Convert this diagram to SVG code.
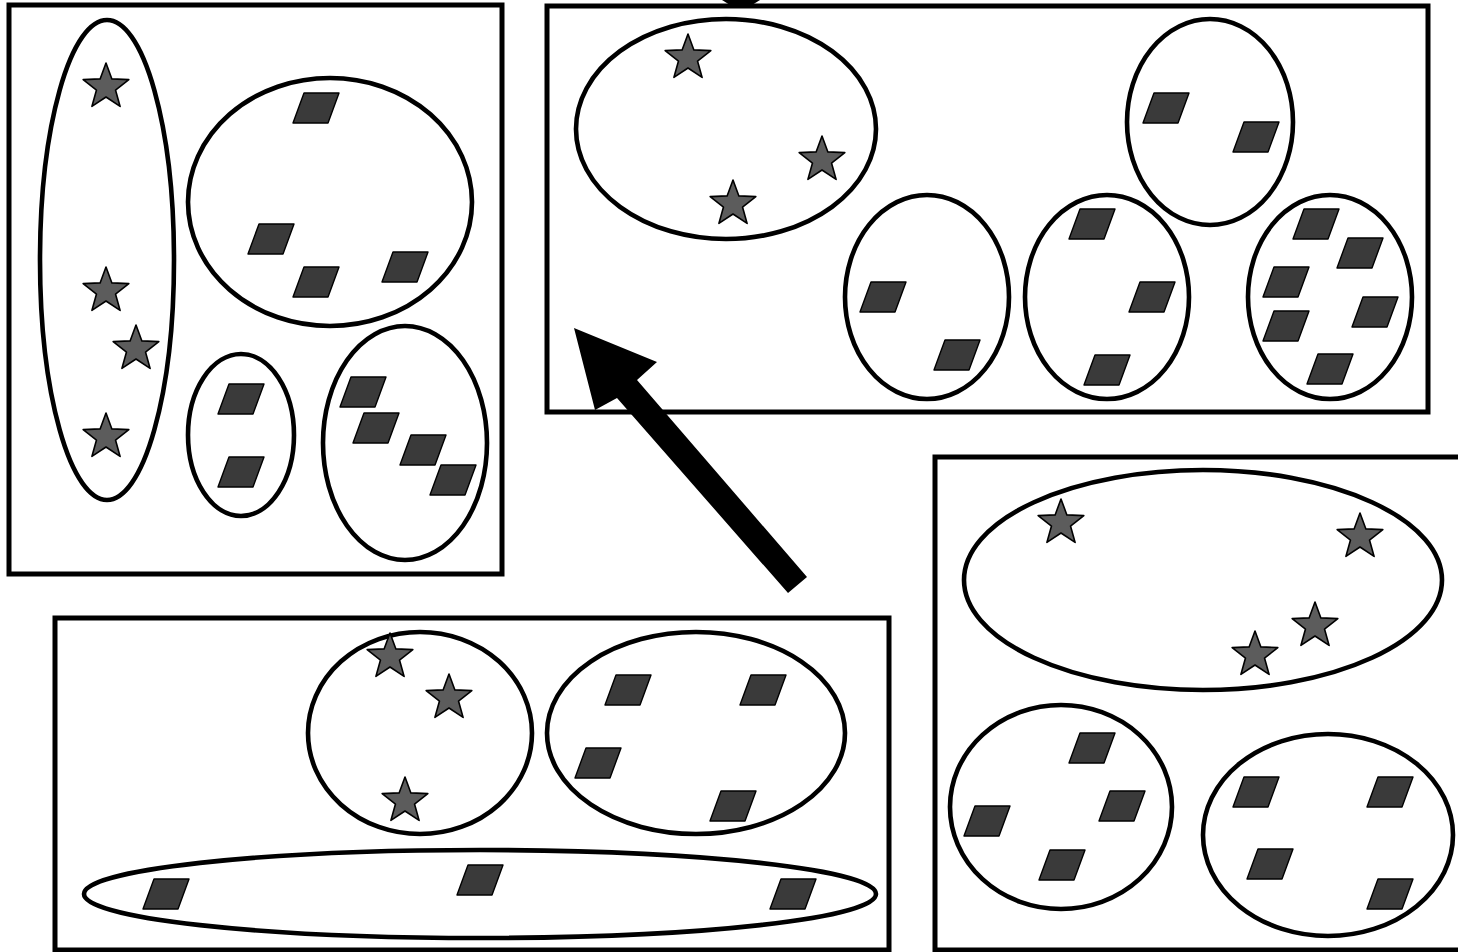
<svg xmlns="http://www.w3.org/2000/svg" xmlns:xlink="http://www.w3.org/1999/xlink" width="1458" height="952" viewBox="0 0 1458 952">
<style>
.panel{fill:none;stroke:#000;stroke-width:5}
.set{fill:none;stroke:#000;stroke-width:4.6}
.star{fill:#5c5c5c;stroke:#000;stroke-width:1.6;stroke-linejoin:round}
.par{fill:#3a3a3a;stroke:#000;stroke-width:1.4;stroke-linejoin:round}
</style>
<defs>
<polygon id="s" points="0,-24 5.88,-8.09 22.83,-7.42 9.51,3.09 14.11,19.42 0,10 -14.11,19.42 -9.51,3.09 -22.83,-7.42 -5.88,-8.09"/>
<polygon id="p" points="-12,-15 23,-15 12,15 -23,15"/>
</defs>
<rect width="1458" height="952" fill="#fff"/>
<g id="connectors">
<path d="M722,0 L760,0 L752,5 L730,5 Z" fill="#000"/>
</g>
<g id="panel1">
<rect class="panel" x="9" y="5" width="493" height="569"/>
<ellipse class="set" cx="107" cy="260" rx="67" ry="240"/>
<use href="#s" class="star" x="106" y="87"/>
<use href="#s" class="star" x="106" y="291"/>
<use href="#s" class="star" x="136" y="349"/>
<use href="#s" class="star" x="106" y="437"/>
<ellipse class="set" cx="330" cy="202" rx="142" ry="124"/>
<use href="#p" class="par" x="316" y="108"/>
<use href="#p" class="par" x="271" y="239"/>
<use href="#p" class="par" x="316" y="282"/>
<use href="#p" class="par" x="405" y="267"/>
<ellipse class="set" cx="241" cy="435" rx="53" ry="81"/>
<use href="#p" class="par" x="241" y="399"/>
<use href="#p" class="par" x="241" y="472"/>
<ellipse class="set" cx="405" cy="443" rx="82" ry="117"/>
<use href="#p" class="par" x="363" y="392"/>
<use href="#p" class="par" x="376" y="428"/>
<use href="#p" class="par" x="423" y="450"/>
<use href="#p" class="par" x="453" y="480"/>
</g>
<g id="panel2">
<rect class="panel" x="547" y="6" width="881" height="406"/>
<ellipse class="set" cx="726" cy="129" rx="150" ry="110"/>
<use href="#s" class="star" x="688" y="58"/>
<use href="#s" class="star" x="822" y="160"/>
<use href="#s" class="star" x="733" y="204"/>
<ellipse class="set" cx="1210" cy="122" rx="83" ry="103"/>
<use href="#p" class="par" x="1166" y="108"/>
<use href="#p" class="par" x="1256" y="137"/>
<ellipse class="set" cx="927" cy="297" rx="82" ry="102"/>
<use href="#p" class="par" x="883" y="297"/>
<use href="#p" class="par" x="957" y="355"/>
<ellipse class="set" cx="1107" cy="297" rx="82" ry="102"/>
<use href="#p" class="par" x="1092" y="224"/>
<use href="#p" class="par" x="1152" y="297"/>
<use href="#p" class="par" x="1107" y="370"/>
<ellipse class="set" cx="1330" cy="297" rx="82" ry="102"/>
<use href="#p" class="par" x="1316" y="224"/>
<use href="#p" class="par" x="1360" y="253"/>
<use href="#p" class="par" x="1286" y="282"/>
<use href="#p" class="par" x="1375" y="312"/>
<use href="#p" class="par" x="1286" y="326"/>
<use href="#p" class="par" x="1330" y="369"/>
</g>
<g id="panel3">
<rect class="panel" x="935" y="457" width="540" height="493"/>
<ellipse class="set" cx="1203" cy="580" rx="239" ry="110"/>
<use href="#s" class="star" x="1061" y="523"/>
<use href="#s" class="star" x="1360" y="537"/>
<use href="#s" class="star" x="1315" y="626"/>
<use href="#s" class="star" x="1255" y="655"/>
<ellipse class="set" cx="1061" cy="807" rx="111" ry="102"/>
<use href="#p" class="par" x="1092" y="748"/>
<use href="#p" class="par" x="987" y="821"/>
<use href="#p" class="par" x="1122" y="806"/>
<use href="#p" class="par" x="1062" y="865"/>
<ellipse class="set" cx="1328" cy="835" rx="125" ry="101"/>
<use href="#p" class="par" x="1256" y="792"/>
<use href="#p" class="par" x="1390" y="792"/>
<use href="#p" class="par" x="1270" y="864"/>
<use href="#p" class="par" x="1390" y="894"/>
</g>
<g id="panel4">
<rect class="panel" x="55" y="618" width="834" height="332"/>
<ellipse class="set" cx="420" cy="733" rx="112" ry="101"/>
<use href="#s" class="star" x="390" y="657"/>
<use href="#s" class="star" x="449" y="698"/>
<use href="#s" class="star" x="405" y="801"/>
<ellipse class="set" cx="696" cy="733" rx="149" ry="101"/>
<use href="#p" class="par" x="628" y="690"/>
<use href="#p" class="par" x="763" y="690"/>
<use href="#p" class="par" x="598" y="763"/>
<use href="#p" class="par" x="733" y="806"/>
<ellipse class="set" cx="480" cy="894" rx="396" ry="44"/>
<use href="#p" class="par" x="166" y="894"/>
<use href="#p" class="par" x="480" y="880"/>
<use href="#p" class="par" x="793" y="894"/>
</g>
<g id="arrow">
<polygon points="574,328 657,362 637,380 807,577 788,593 617,398 595,410" fill="#000"/>
</g>
</svg>
